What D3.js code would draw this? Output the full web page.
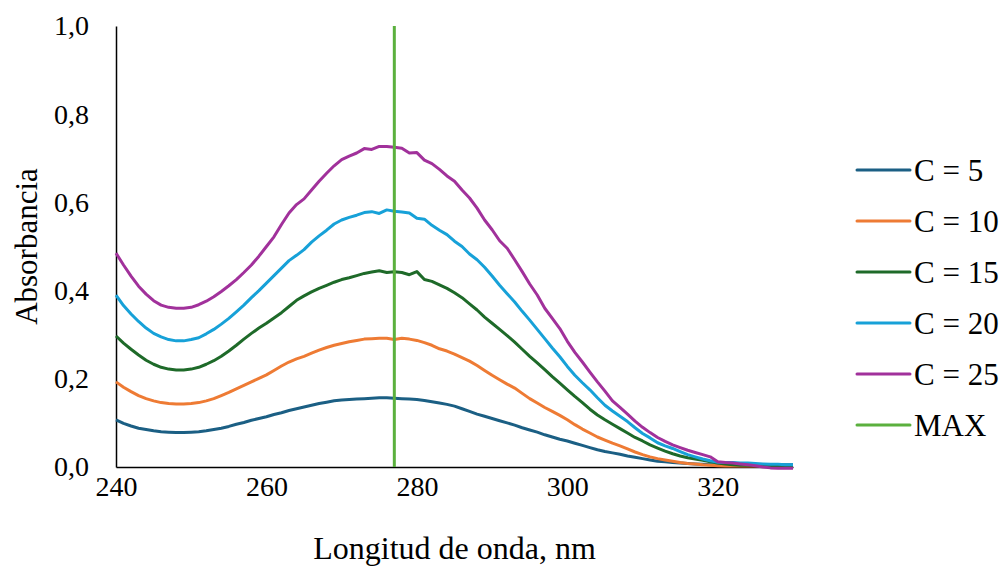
<!DOCTYPE html>
<meta charset="utf-8">
<head>
  <title>Absorbancia</title>
  <script src="https://d3js.org/d3.v7.min.js"></script>
  <style>
    body { margin: 0; background: #fff; }
    text { font-family: "Liberation Serif", "Times New Roman", serif; fill: #000; }
    .series { fill: none; stroke-width: 3px; stroke-linejoin: round; }
  </style>
</head>
<body>
  <svg width="1004" height="566"></svg>
  <script>
    // wavelengths, 1 nm step
    const wavelengths = d3.range(240, 331);

    const c5 = [
      .107,.099,.093,.088,.085,.082,.080,.079,.078,.078,
      .079,.080,.082,.085,.088,.092,.097,.101,.106,.110,
      .114,.119,.123,.128,.132,.136,.140,.144,.147,.150,
      .152,.153,.154,.155,.156,.157,.157,.156,.155,.154,
      .153,.151,.148,.145,.142,.138,.132,.126,.120,.115,
      .110,.105,.100,.095,.089,.084,.079,.073,.068,.063,
      .059,.054,.049,.044,.039,.035,.032,.029,.025,.022,
      .019,.016,.013,.012,.010,.009,.008,.007,.006,.005,
      .004,.004,.004,.004,.004,.004,.005,.005,.005,.005,.005];
    const c10 = [
      .193,.181,.171,.162,.155,.150,.146,.144,.143,.143,
      .144,.146,.150,.155,.162,.169,.177,.185,.193,.201,
      .209,.219,.229,.238,.245,.251,.258,.265,.271,.276,
      .280,.284,.287,.290,.291,.292,.292,.289,.292,.290,
      .287,.282,.276,.268,.263,.256,.248,.240,.230,.219,
      .208,.198,.188,.179,.167,.155,.145,.135,.126,.117,
      .107,.096,.086,.077,.068,.061,.054,.048,.041,.034,
      .028,.023,.019,.016,.013,.010,.008,.007,.005,.004,
      .003,.002,.002,.002,.002,.002,.002,.002,.002,.002,.002];
    const c15 = [
      .297,.281,.267,.254,.242,.233,.226,.222,.220,.220,
      .222,.226,.233,.241,.251,.263,.276,.290,.303,.315,
      .326,.338,.350,.364,.378,.388,.397,.405,.412,.419,
      .425,.429,.434,.439,.442,.445,.441,.443,.441,.436,
      .443,.425,.421,.413,.405,.395,.384,.370,.356,.340,
      .326,.312,.298,.283,.267,.251,.236,.221,.205,.190,
      .175,.160,.146,.131,.118,.107,.097,.087,.077,.067,
      .059,.050,.043,.036,.030,.025,.021,.018,.015,.012,
      .009,.007,.005,.004,.004,.003,.003,.003,.003,.003,.003];
    const c20 = [
      .390,.366,.347,.330,.315,.303,.295,.289,.286,.286,
      .289,.293,.302,.312,.324,.337,.352,.367,.384,.400,
      .417,.434,.451,.468,.480,.493,.510,.524,.537,.551,
      .560,.566,.571,.577,.579,.575,.583,.580,.578,.576,
      .564,.562,.548,.537,.527,.512,.500,.483,.470,.453,
      .433,.412,.393,.374,.353,.333,.312,.291,.270,.250,
      .228,.208,.191,.175,.157,.140,.127,.115,.103,.089,
      .076,.066,.055,.048,.042,.035,.028,.023,.018,.014,
      .011,.010,.010,.009,.009,.008,.007,.006,.006,.005,.005];
    const c25 = [
      .485,.458,.433,.410,.392,.377,.367,.362,.360,.360,
      .362,.368,.376,.386,.398,.411,.425,.441,.458,.478,
      .500,.522,.550,.576,.595,.608,.628,.648,.666,.683,
      .697,.705,.712,.722,.720,.727,.727,.725,.723,.712,
      .713,.696,.688,.675,.660,.648,.628,.610,.587,.560,
      .538,.513,.496,.470,.443,.415,.390,.360,.337,.314,
      .285,.260,.238,.215,.193,.172,.150,.135,.120,.104,
      .090,.078,.067,.058,.050,.044,.038,.033,.028,.023,
      .012,.010,.009,.007,.005,.003,.000,-.002,-.003,-.003,-.003];

    const seriesNames = ["C = 5", "C = 10", "C = 15", "C = 20", "C = 25"];
    const seriesValues = [c5, c10, c15, c20, c25];
    const seriesColors = ["#1b5f84", "#ee7b34", "#1e6a29", "#17a1d8", "#a1319b"];
    const maxNm = 277;
    const maxColor = "#5bb03e";

    const xTicks = [240, 260, 280, 300, 320];
    const yTicks = [0, 0.2, 0.4, 0.6, 0.8, 1.0];

    const svg = d3.select("svg");

    const x = d3.scaleLinear().domain([240, 330]).range([116, 793]);
    const y = d3.scaleLinear().domain([0, 1]).range([467, 26]);

    const fmt = d => d3.format(".1f")(d).replace(".", ",");

    // y axis
    const yAxis = svg.append("g")
      .attr("transform", "translate(" + x(240) + ",0)")
      .call(d3.axisLeft(y).tickValues(yTicks).tickSize(0).tickPadding(27).tickFormat(fmt));
    yAxis.select(".domain").attr("stroke", "#000").attr("stroke-width", 1.5);
    yAxis.selectAll("text").style("font-family", "Liberation Serif").style("font-size", "28px");

    // x axis
    const xAxis = svg.append("g")
      .attr("transform", "translate(0," + y(0) + ")")
      .call(d3.axisBottom(x).tickValues(xTicks).tickSize(0).tickPadding(9).tickFormat(d3.format("d")));
    xAxis.select(".domain").attr("stroke", "#000").attr("stroke-width", 1.5);
    xAxis.selectAll("text").style("font-family", "Liberation Serif").style("font-size", "28px");

    const line = d3.line()
      .x((d, i) => x(wavelengths[i]))
      .y(d => y(d));

    svg.append("g").selectAll("path")
      .data(seriesValues)
      .enter().append("path")
      .attr("class", "series")
      .attr("stroke", (d, i) => seriesColors[i])
      .attr("d", line);

    // MAX marker
    svg.append("line")
      .attr("x1", x(maxNm)).attr("x2", x(maxNm))
      .attr("y1", y(0)).attr("y2", y(1))
      .attr("stroke", maxColor)
      .attr("stroke-width", 3);

    // titles
    svg.append("text")
      .attr("x", (x(240) + x(330)) / 2)
      .attr("y", 559)
      .attr("text-anchor", "middle")
      .style("font-size", "32px")
      .text("Longitud de onda, nm");

    svg.append("text")
      .attr("transform", "translate(37," + (y(0.5)) + ") rotate(-90)")
      .attr("text-anchor", "middle")
      .style("font-size", "31px")
      .text("Absorbancia");

    // legend
    const legendNames = seriesNames.concat(["MAX"]);
    const legendColors = seriesColors.concat([maxColor]);
    const legend = svg.append("g").selectAll("g")
      .data(legendNames)
      .enter().append("g")
      .attr("transform", (d, i) => "translate(857," + (170 + i * 51) + ")");
    legend.append("line")
      .attr("x1", 0).attr("x2", 53)
      .attr("stroke", (d, i) => legendColors[i])
      .attr("stroke-width", 3)
      .attr("stroke-linecap", "round");
    legend.append("text")
      .attr("x", 57)
      .attr("dy", "0.35em")
      .style("font-size", "31px")
      .text(d => d);
  </script>
</body>
